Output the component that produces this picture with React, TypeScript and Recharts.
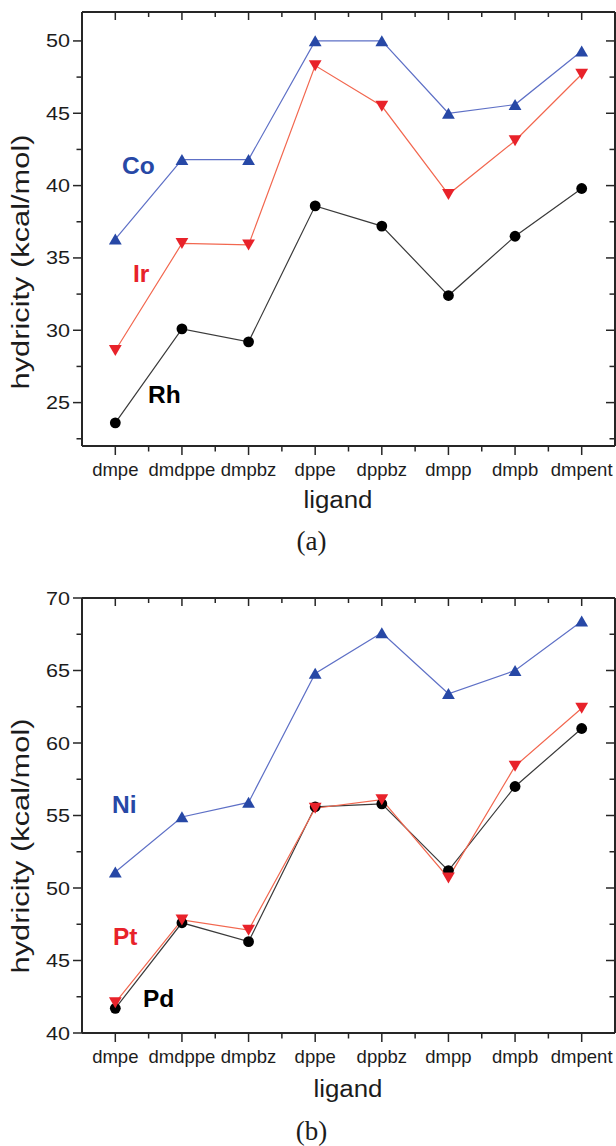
import React from 'react';
import { LineChart, Line, XAxis, YAxis } from 'recharts';

// ---------- data ----------
const ligands = ['dmpe', 'dmdppe', 'dmpbz', 'dppe', 'dppbz', 'dmpp', 'dmpb', 'dmpent'];

// panel (a)
const coValues = [36.3, 41.8, 41.8, 50.0, 50.0, 45.0, 45.6, 49.3];
const irValues = [28.6, 36.0, 35.9, 48.3, 45.5, 39.4, 43.1, 47.7];
const rhValues = [23.6, 30.1, 29.2, 38.6, 37.2, 32.4, 36.5, 39.8];

// panel (b)
const niValues = [51.1, 54.9, 55.9, 64.8, 67.6, 63.4, 65.0, 68.4];
const ptValues = [42.1, 47.8, 47.1, 55.5, 56.1, 50.7, 58.4, 62.4];
const pdValues = [41.7, 47.6, 46.3, 55.6, 55.8, 51.2, 57.0, 61.0];

// ticks (integers = ligand positions, halves = minor ticks between them)
const xTicks = [0, 0.5, 1, 1.5, 2, 2.5, 3, 3.5, 4, 4.5, 5, 5.5, 6, 6.5, 7];
const xDomain = [-0.5, 7.5];
const yTicksA = [22.5, 25, 27.5, 30, 32.5, 35, 37.5, 40, 42.5, 45, 47.5, 50];
const yDomainA = [22, 52];
const yTicksB = [40, 42.5, 45, 47.5, 50, 52.5, 55, 57.5, 60, 62.5, 65, 67.5, 70];
const yDomainB = [40, 70];

const dataA = ligands.map((ligand, i) => ({ idx: i, ligand, Co: coValues[i], Ir: irValues[i], Rh: rhValues[i] }));
const dataB = ligands.map((ligand, i) => ({ idx: i, ligand, Ni: niValues[i], Pt: ptValues[i], Pd: pdValues[i] }));

// ---------- styles ----------
const FONT = '"Liberation Sans", Arial, Helvetica, sans-serif';
const SERIF = '"Liberation Serif", "Times New Roman", serif';
const AXIS = '#262626';
const TXT = '#1c1c1c';
const BLUE_M = '#2748A6';
const BLUE_L = '#5E70C6';
const RED_M = '#E8222A';
const RED_L = '#F2674F';
const BLK_M = '#000000';
const BLK_L = '#3a3a3a';

const MAJ = 9;
const MIN = 5.5;

const BottomTick = (props: any) => {
  const { x, y, payload } = props;
  const v = payload.value as number;
  const major = Number.isInteger(v);
  return (
    <g>
      <line x1={x} x2={x} y1={y} y2={y + (major ? MAJ : MIN)} stroke={AXIS} strokeWidth={1.5} />
      {major && (
        <text x={x} y={y + 30} textAnchor="middle" fontSize={18.5} fontFamily={FONT} fill={TXT}>
          {ligands[v]}
        </text>
      )}
    </g>
  );
};

const TopTick = (props: any) => {
  const { x, y, payload } = props;
  const major = Number.isInteger(payload.value);
  return <line x1={x} x2={x} y1={y} y2={y + (major ? MAJ - 1 : MIN - 0.5)} stroke={AXIS} strokeWidth={1.5} />;
};

const LeftTick = (props: any) => {
  const { x, y, payload } = props;
  const v = payload.value as number;
  const major = v % 5 === 0;
  return (
    <g>
      <line x1={x - (major ? MAJ : MIN)} x2={x} y1={y} y2={y} stroke={AXIS} strokeWidth={1.5} />
      {major && (
        <text
          x={x - 12}
          y={y}
          textAnchor="end"
          dominantBaseline="central"
          fontSize={19}
          fontFamily={FONT}
          fill={TXT}
          textLength={24}
          lengthAdjust="spacingAndGlyphs"
        >
          {v}
        </text>
      )}
    </g>
  );
};

const RightTick = (props: any) => {
  const { x, y, payload } = props;
  const major = (payload.value as number) % 5 === 0;
  return <line x1={x - (major ? MAJ : MIN)} x2={x} y1={y} y2={y} stroke={AXIS} strokeWidth={1.5} />;
};

const upTri = (color: string) => (props: any) => {
  const { cx, cy, index } = props;
  if (cx == null || cy == null) return <g key={index} />;
  return <path key={index} d={`M${cx},${cy - 5.6} L${cx + 6.4},${cy + 5.4} L${cx - 6.4},${cy + 5.4} Z`} fill={color} />;
};
const downTri = (color: string) => (props: any) => {
  const { cx, cy, index } = props;
  if (cx == null || cy == null) return <g key={index} />;
  return <path key={index} d={`M${cx},${cy + 5.6} L${cx + 6.4},${cy - 5.4} L${cx - 6.4},${cy - 5.4} Z`} fill={color} />;
};
const circ = (color: string) => (props: any) => {
  const { cx, cy, index } = props;
  if (cx == null || cy == null) return <g key={index} />;
  return <circle key={index} cx={cx} cy={cy} r={5.4} fill={color} />;
};

const axisLine = { stroke: AXIS, strokeWidth: 2 };

function Frame(yDomain: number[], yTicks: number[]) {
  return [
    <XAxis
      key="xb"
      xAxisId="bottom"
      dataKey="idx"
      type="number"
      domain={xDomain}
      ticks={xTicks}
      interval={0}
      tickSize={0}
      tickMargin={0}
      tickLine={false}
      axisLine={axisLine}
      tick={BottomTick}
      height={30}
      allowDataOverflow
    />,
    <XAxis
      key="xt"
      xAxisId="top"
      orientation="top"
      dataKey="idx"
      type="number"
      domain={xDomain}
      ticks={xTicks}
      interval={0}
      tickSize={0}
      tickMargin={0}
      tickLine={false}
      axisLine={axisLine}
      tick={TopTick}
      height={1}
      allowDataOverflow
    />,
    <YAxis
      key="yl"
      yAxisId="left"
      type="number"
      domain={yDomain}
      ticks={yTicks}
      interval={0}
      tickSize={0}
      tickMargin={0}
      tickLine={false}
      axisLine={axisLine}
      tick={LeftTick}
      width={82}
      allowDataOverflow
    />,
    <YAxis
      key="yr"
      yAxisId="right"
      orientation="right"
      type="number"
      domain={yDomain}
      ticks={yTicks}
      interval={0}
      tickSize={0}
      tickMargin={0}
      tickLine={false}
      axisLine={axisLine}
      tick={RightTick}
      width={1}
      allowDataOverflow
    />,
  ];
}

function Overlay() {
  const metal = (label: string, x: number, y: number, color: string) => (
    <text x={x} y={y} fontSize={24.5} fontWeight="bold" fontFamily={FONT} fill={color}>
      {label}
    </text>
  );
  const yTitle = (cy: number) => (
    <text
      transform={`translate(28.5,${cy}) rotate(-90)`}
      textAnchor="middle"
      fontSize={23}
      fontFamily={FONT}
      fill={TXT}
      textLength={255}
      lengthAdjust="spacingAndGlyphs"
    >
      hydricity (kcal/mol)
    </text>
  );
  return (
    <svg width={616} height={1146} style={{ position: 'absolute', left: 0, top: 0, pointerEvents: 'none' }}>
      {yTitle(262)}
      {yTitle(846)}
      <text x={338} y={508} textAnchor="middle" fontSize={23} fontFamily={FONT} fill={TXT} textLength={69} lengthAdjust="spacingAndGlyphs">
        ligand
      </text>
      <text x={348} y={1097} textAnchor="middle" fontSize={23} fontFamily={FONT} fill={TXT} textLength={69} lengthAdjust="spacingAndGlyphs">
        ligand
      </text>
      <text x={311.5} y={550} textAnchor="middle" fontSize={27} fontFamily={SERIF} fill={TXT}>
        (a)
      </text>
      <text x={311.5} y={1140} textAnchor="middle" fontSize={27} fontFamily={SERIF} fill={TXT}>
        (b)
      </text>
      {metal('Co', 122, 173.5, BLUE_M)}
      {metal('Ir', 133, 281.5, RED_M)}
      {metal('Rh', 148, 402.5, '#000')}
      {metal('Ni', 112, 813, BLUE_M)}
      {metal('Pt', 113, 945, RED_M)}
      {metal('Pd', 143, 1006.5, '#000')}
    </svg>
  );
}

export default function App() {
  return (
    <div style={{ position: 'absolute', left: 0, top: 0, width: 616, height: 1146, background: '#fff', overflow: 'hidden' }}>
      <div style={{ position: 'absolute', left: 0, top: 0 }}>
        <LineChart width={616} height={560} data={dataA} margin={{ top: 11, right: 0, bottom: 84, left: 0 }}>
          {Frame(yDomainA, yTicksA)}
          <Line xAxisId="bottom" yAxisId="left" type="linear" dataKey="Co" stroke={BLUE_L} strokeWidth={1.2} dot={upTri(BLUE_M)} activeDot={false} isAnimationActive={false} />
          <Line xAxisId="bottom" yAxisId="left" type="linear" dataKey="Ir" stroke={RED_L} strokeWidth={1.2} dot={downTri(RED_M)} activeDot={false} isAnimationActive={false} />
          <Line xAxisId="bottom" yAxisId="left" type="linear" dataKey="Rh" stroke={BLK_L} strokeWidth={1.2} dot={circ(BLK_M)} activeDot={false} isAnimationActive={false} />
        </LineChart>
      </div>
      <div style={{ position: 'absolute', left: 0, top: 580 }}>
        <LineChart width={616} height={566} data={dataB} margin={{ top: 17, right: 0, bottom: 83, left: 0 }}>
          {Frame(yDomainB, yTicksB)}
          <Line xAxisId="bottom" yAxisId="left" type="linear" dataKey="Ni" stroke={BLUE_L} strokeWidth={1.2} dot={upTri(BLUE_M)} activeDot={false} isAnimationActive={false} />
          <Line xAxisId="bottom" yAxisId="left" type="linear" dataKey="Pd" stroke={BLK_L} strokeWidth={1.2} dot={circ(BLK_M)} activeDot={false} isAnimationActive={false} />
          <Line xAxisId="bottom" yAxisId="left" type="linear" dataKey="Pt" stroke={RED_L} strokeWidth={1.2} dot={downTri(RED_M)} activeDot={false} isAnimationActive={false} />
        </LineChart>
      </div>
      <Overlay />
    </div>
  );
}
